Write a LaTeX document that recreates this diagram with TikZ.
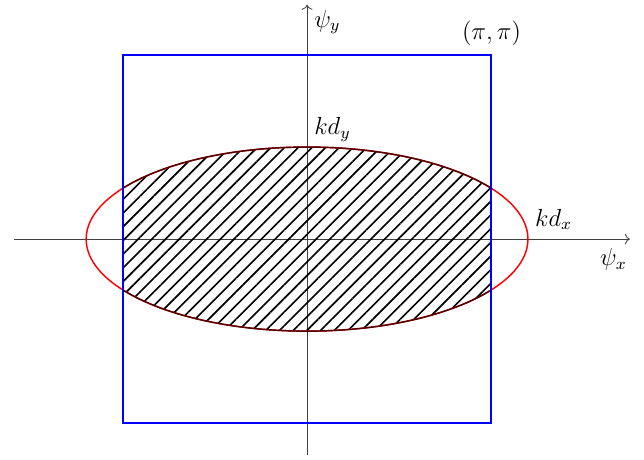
\documentclass[tikz,border=0pt]{standalone}
\usepackage{amsmath,amssymb}
\usepackage{tikz}
\usetikzlibrary{arrows.meta,positioning,patterns.meta}

\begin{document}
\begin{tikzpicture}[every node/.style={font=\large}]
  \useasboundingbox (-5.24,-3.76) rectangle (5.75,4.08);
  % Axes
  \draw[->, black!75] (-5.0,0) -- (5.51,0) coordinate (xend);
  \draw[->, black!75] (0,-3.69) -- (0,4.0) coordinate (yend);
  \node[below left=1pt and -2pt] (psix) at (xend) {$\psi_x$};
  \node[below right=-1pt and 0pt] (psiy) at (yend) {$\psi_y$};
  % Zone hachuree (ellipse dans le carre)
  \begin{scope}
    \clip (-pi,-pi) rectangle (pi,pi);
    \fill[pattern={Lines[angle=45,distance=4.7pt,line width=0.8pt]}]
       (0,0) ellipse ({1.2*pi} and {0.5*pi});
  \end{scope}
  % Ellipse
  \draw[red, line width=0.7pt] (0,0) ellipse ({1.2*pi} and {0.5*pi});
  \begin{scope}
    \clip (-pi,-pi) rectangle (pi,pi);
    \draw[black!70!red, line width=0.7pt] (0,0) ellipse ({1.2*pi} and {0.5*pi});
  \end{scope}
  % Carre
  \draw[blue, line width=0.7pt] (-pi,-pi) rectangle (pi,pi);
  % Etiquettes
  \coordinate (corner) at (pi,pi);
  \node[above left=1pt and -18pt] (pipi) at (corner) {$(\pi,\pi)$};
  \coordinate (ax) at ({1.2*pi},0);
  \node[above right=1pt and 0pt] (kdx) at (ax) {$kd_x$};
  \coordinate (ay) at (0,{0.5*pi});
  \node[above right=-1pt and 0pt] (kdy) at (ay) {$kd_y$};
\end{tikzpicture}
\end{document}
